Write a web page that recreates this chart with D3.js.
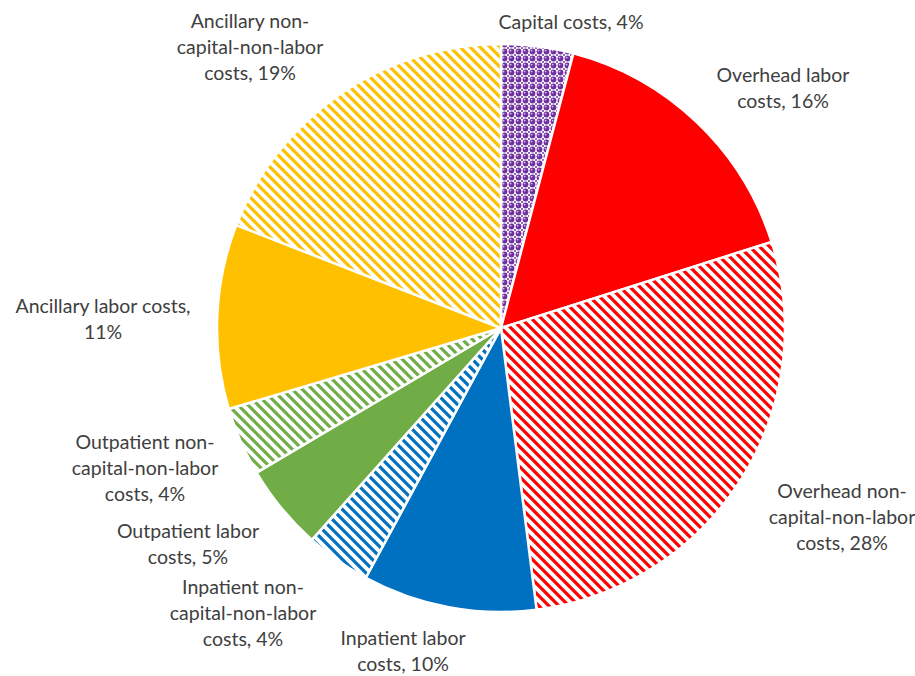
<!DOCTYPE html>
<html>
<head>
<meta charset="utf-8">
<script src="https://cdn.jsdelivr.net/npm/d3@7"></script>
<style>
  body { margin: 0; background: #fff; }
  svg { display: block; }
  text { font-family: Lato, "Open Sans", sans-serif; font-size: 19.5px; fill: #404040; }
</style>
</head>
<body>
<svg id="chart" width="915" height="676"></svg>
<script>
// Cost categories, in clockwise order from 12 o'clock
const categories = [
  'Capital costs',
  'Overhead labor costs',
  'Overhead non-capital-non-labor costs',
  'Inpatient labor costs',
  'Inpatient non-capital-non-labor costs',
  'Outpatient labor costs',
  'Outpatient non-capital-non-labor costs',
  'Ancillary labor costs',
  'Ancillary non-capital-non-labor costs'
];
// share of total, percent
const shares = [4.1, 16.0, 27.9, 9.9, 3.7, 4.9, 3.9, 10.5, 19.1];
// label lines as wrapped in the chart
const labelLines = [
  ['Capital costs, 4%'],
  ['Overhead labor', 'costs, 16%'],
  ['Overhead non-', 'capital-non-labor', 'costs, 28%'],
  ['Inpatient labor', 'costs, 10%'],
  ['Inpatient non-', 'capital-non-labor', 'costs, 4%'],
  ['Outpatient labor', 'costs, 5%'],
  ['Outpatient non-', 'capital-non-labor', 'costs, 4%'],
  ['Ancillary labor costs,', '11%'],
  ['Ancillary non-', 'capital-non-labor', 'costs, 19%']
];
const colors = ['#7030A0', '#FF0000', '#FF0000', '#0070C0', '#0070C0', '#70AD47', '#70AD47', '#FFC000', '#FFC000'];
const fills = ['sphere', 'solid', 'stripe', 'solid', 'stripe', 'solid', 'stripe', 'solid', 'stripe'];

// layout
const cx = 501, cy = 328, radius = 284;
const lineH = 26;
// first-line centre of each label
const labelAnchor = [
  [571, 21], [783, 74], [842, 490], [403, 637], [243, 586],
  [188, 530], [145, 441], [103, 305], [250, 20]
];

const svg = d3.select('#chart');
const defs = svg.append('defs');

// patterns
categories.forEach((c, i) => {
  if (fills[i] === 'stripe') {
    const p = defs.append('pattern')
      .attr('id', 'pat' + i)
      .attr('patternUnits', 'userSpaceOnUse')
      .attr('width', 10).attr('height', 10);
    p.append('rect').attr('width', 10).attr('height', 10).attr('fill', '#fff');
    // downward diagonal ("\")
    p.append('path')
      .attr('d', 'M-2,-2 L12,12 M-2,8 L2,12 M8,-2 L12,2')
      .attr('stroke', colors[i]).attr('stroke-width', 3.2);
  } else if (fills[i] === 'sphere') {
    const p = defs.append('pattern')
      .attr('id', 'pat' + i)
      .attr('patternUnits', 'userSpaceOnUse')
      .attr('width', 7).attr('height', 7);
    p.append('rect').attr('width', 7).attr('height', 7).attr('fill', '#fff');
    p.append('circle').attr('cx', 3.5).attr('cy', 3.5).attr('r', 2.9).attr('fill', colors[i]);
    p.append('circle').attr('cx', 2.6).attr('cy', 2.6).attr('r', 0.9).attr('fill', '#d9c3ec');
    [[0, 0], [7, 0], [0, 7], [7, 7]].forEach(([x, y]) =>
      p.append('circle').attr('cx', x).attr('cy', y).attr('r', 1).attr('fill', colors[i]));
  }
});

const data = categories.map((c, i) => ({ name: c, value: shares[i], i }));

const pie = d3.pie().value(d => d.value).sort(null);
const arc = d3.arc().innerRadius(0).outerRadius(radius);

const g = svg.append('g').attr('transform', `translate(${cx},${cy})`);

g.selectAll('path.slice')
  .data(pie(data))
  .join('path')
  .attr('class', 'slice')
  .attr('d', arc)
  .attr('fill', d => fills[d.data.i] === 'solid' ? colors[d.data.i] : `url(#pat${d.data.i})`)
  .attr('stroke', '#fff')
  .attr('stroke-width', 2.5)
  .attr('stroke-linejoin', 'round');

// data labels
const labels = svg.append('g');
data.forEach(d => {
  const [x, y] = labelAnchor[d.i];
  const t = labels.append('text')
    .attr('text-anchor', 'middle')
    .attr('dominant-baseline', 'central');
  labelLines[d.i].forEach((ln, k) => {
    t.append('tspan').attr('x', x).attr('y', y + k * lineH).text(ln);
  });
});
</script>
</body>
</html>
